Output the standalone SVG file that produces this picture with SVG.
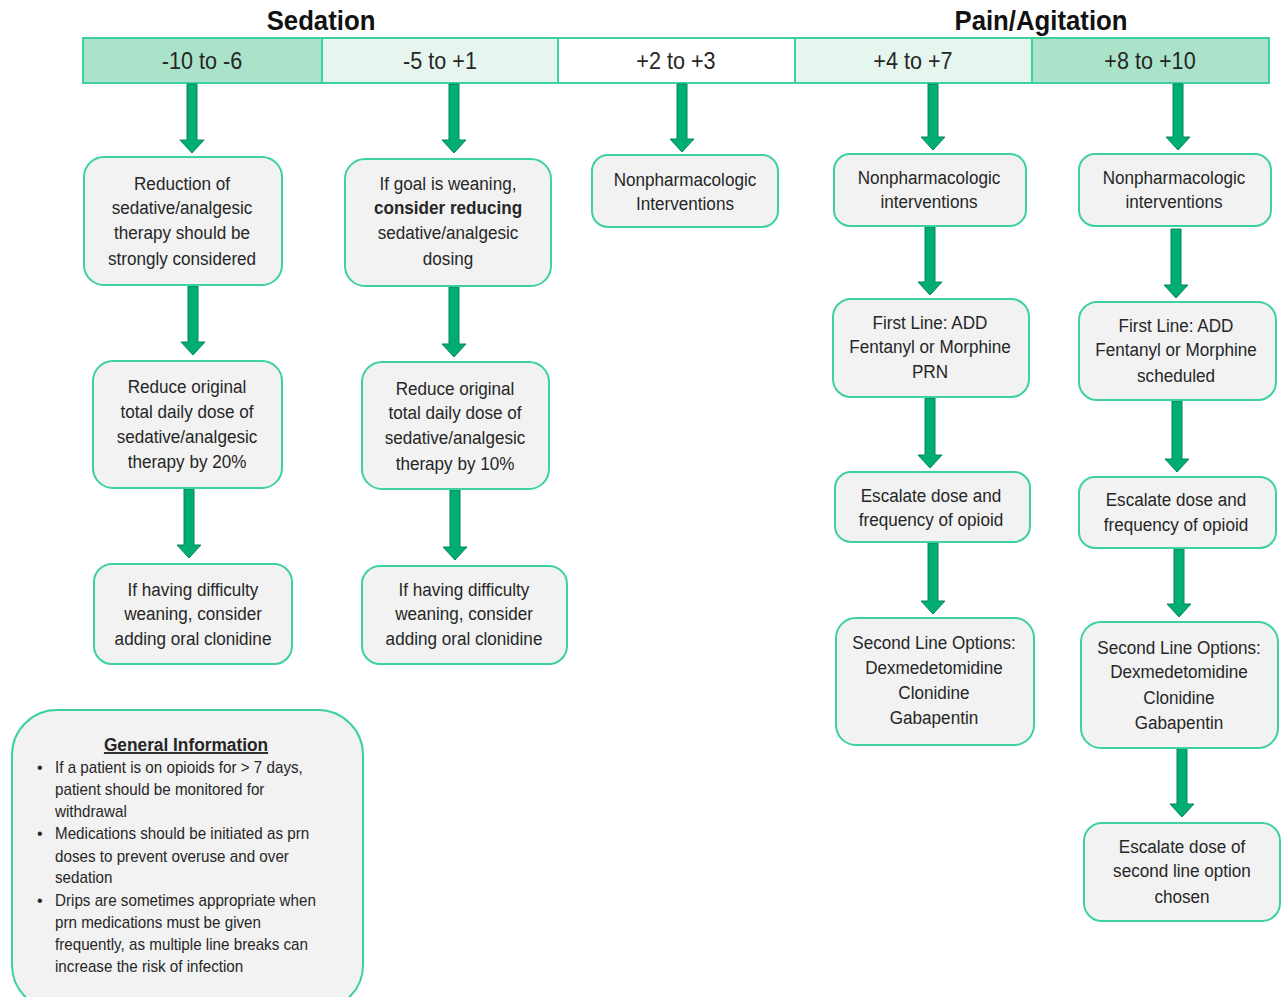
<svg xmlns="http://www.w3.org/2000/svg" width="1281" height="997" viewBox="0 0 1281 997">
<style>
.t{font-family:"Liberation Sans",Arial,sans-serif;font-size:19px;fill:#262626;text-anchor:middle}
.h{font-family:"Liberation Sans",Arial,sans-serif;font-size:24px;fill:#262626;text-anchor:middle}
.ttl{font-family:"Liberation Sans",Arial,sans-serif;font-size:28px;font-weight:bold;fill:#111;text-anchor:middle}
.g{font-family:"Liberation Sans",Arial,sans-serif;font-size:16px;fill:#262626}
.n{fill:#f2f2f2;stroke:#3dd1a2;stroke-width:2}
.c{stroke:#3dd1a2;stroke-width:2}
.arr{fill:#00ad75;stroke:#07865a;stroke-width:1}
</style>
<g id="titles">
<g transform="translate(321 0) scale(0.92 1)"><text class="ttl" x="0" y="30">Sedation</text></g>
<g transform="translate(1041 0) scale(0.92 1)"><text class="ttl" x="0" y="30">Pain/Agitation</text></g>
</g>
<g id="header">
<rect class="c" x="83" y="38" width="239" height="45" fill="#aae3ca"/>
<rect class="c" x="322" y="38" width="236" height="45" fill="#e6f6ee"/>
<rect class="c" x="558" y="38" width="237" height="45" fill="#ffffff"/>
<rect class="c" x="795" y="38" width="237" height="45" fill="#e6f6ee"/>
<rect class="c" x="1032" y="38" width="237" height="45" fill="#aae3ca"/>
<g transform="translate(202 0) scale(0.9 1)"><text class="h" x="0" y="69">-10 to -6</text></g>
<g transform="translate(440 0) scale(0.9 1)"><text class="h" x="0" y="69">-5 to +1</text></g>
<g transform="translate(676 0) scale(0.9 1)"><text class="h" x="0" y="69">+2 to +3</text></g>
<g transform="translate(913 0) scale(0.9 1)"><text class="h" x="0" y="69">+4 to +7</text></g>
<g transform="translate(1150 0) scale(0.9 1)"><text class="h" x="0" y="69">+8 to +10</text></g>
</g>
<g id="connectors">
<path class="arr" d="M187,84 V140 H180 L192,153 L204,140 H197 V84 Z"/>
<path class="arr" d="M188,286 V342 H181 L193,355 L205,342 H198 V286 Z"/>
<path class="arr" d="M184,489 V545 H177 L189,558 L201,545 H194 V489 Z"/>
<path class="arr" d="M449,84 V140 H442 L454,153 L466,140 H459 V84 Z"/>
<path class="arr" d="M449,287 V344 H442 L454,357 L466,344 H459 V287 Z"/>
<path class="arr" d="M450,490 V547 H443 L455,560 L467,547 H460 V490 Z"/>
<path class="arr" d="M677,84 V139 H670 L682,152 L694,139 H687 V84 Z"/>
<path class="arr" d="M928,84 V137 H921 L933,150 L945,137 H938 V84 Z"/>
<path class="arr" d="M925,227 V282 H918 L930,295 L942,282 H935 V227 Z"/>
<path class="arr" d="M925,398 V455 H918 L930,468 L942,455 H935 V398 Z"/>
<path class="arr" d="M928,543 V601 H921 L933,614 L945,601 H938 V543 Z"/>
<path class="arr" d="M1173,84 V137 H1166 L1178,150 L1190,137 H1183 V84 Z"/>
<path class="arr" d="M1171,229 V285 H1164 L1176,298 L1188,285 H1181 V229 Z"/>
<path class="arr" d="M1172,401 V459 H1165 L1177,472 L1189,459 H1182 V401 Z"/>
<path class="arr" d="M1174,549 V604 H1167 L1179,617 L1191,604 H1184 V549 Z"/>
<path class="arr" d="M1177,749 V804 H1170 L1182,817 L1194,804 H1187 V749 Z"/>
</g>
<g id="n1">
<rect class="n" x="84" y="157" width="198" height="128" rx="20"/>
<g transform="translate(182 0) scale(0.9 1)">
<text class="t" x="0" y="190">Reduction of</text>
<text class="t" x="0" y="214">sedative/analgesic</text>
<text class="t" x="0" y="239">therapy should be</text>
<text class="t" x="0" y="265">strongly considered</text>
</g>
</g>
<g id="n2">
<rect class="n" x="93" y="361" width="189" height="127" rx="20"/>
<g transform="translate(187 0) scale(0.9 1)">
<text class="t" x="0" y="393">Reduce original</text>
<text class="t" x="0" y="418">total daily dose of</text>
<text class="t" x="0" y="443">sedative/analgesic</text>
<text class="t" x="0" y="468">therapy by 20%</text>
</g>
</g>
<g id="n3">
<rect class="n" x="94" y="564" width="198" height="100" rx="18"/>
<g transform="translate(193 0) scale(0.9 1)">
<text class="t" x="0" y="596">If having difficulty</text>
<text class="t" x="0" y="620">weaning, consider</text>
<text class="t" x="0" y="645">adding oral clonidine</text>
</g>
</g>
<g id="n4">
<rect class="n" x="345" y="159" width="206" height="127" rx="20"/>
<g transform="translate(448 0) scale(0.9 1)">
<text class="t" x="0" y="190">If goal is weaning,</text>
<text class="t" x="0" y="214" font-weight="bold">consider reducing</text>
<text class="t" x="0" y="239">sedative/analgesic</text>
<text class="t" x="0" y="265">dosing</text>
</g>
</g>
<g id="n5">
<rect class="n" x="362" y="362" width="187" height="127" rx="20"/>
<g transform="translate(455 0) scale(0.9 1)">
<text class="t" x="0" y="395">Reduce original</text>
<text class="t" x="0" y="419">total daily dose of</text>
<text class="t" x="0" y="444">sedative/analgesic</text>
<text class="t" x="0" y="470">therapy by 10%</text>
</g>
</g>
<g id="n6">
<rect class="n" x="362" y="566" width="205" height="98" rx="18"/>
<g transform="translate(464 0) scale(0.9 1)">
<text class="t" x="0" y="596">If having difficulty</text>
<text class="t" x="0" y="620">weaning, consider</text>
<text class="t" x="0" y="645">adding oral clonidine</text>
</g>
</g>
<g id="n7">
<rect class="n" x="592" y="155" width="186" height="72" rx="16"/>
<g transform="translate(685 0) scale(0.9 1)">
<text class="t" x="0" y="186">Nonpharmacologic</text>
<text class="t" x="0" y="210">Interventions</text>
</g>
</g>
<g id="n8">
<rect class="n" x="834" y="154" width="192" height="72" rx="16"/>
<g transform="translate(929 0) scale(0.9 1)">
<text class="t" x="0" y="184">Nonpharmacologic</text>
<text class="t" x="0" y="208">interventions</text>
</g>
</g>
<g id="n9">
<rect class="n" x="833" y="299" width="196" height="98" rx="18"/>
<g transform="translate(930 0) scale(0.9 1)">
<text class="t" x="0" y="329">First Line: ADD</text>
<text class="t" x="0" y="353">Fentanyl or Morphine</text>
<text class="t" x="0" y="378">PRN</text>
</g>
</g>
<g id="n10">
<rect class="n" x="835" y="472" width="195" height="70" rx="16"/>
<g transform="translate(931 0) scale(0.9 1)">
<text class="t" x="0" y="502">Escalate dose and</text>
<text class="t" x="0" y="526">frequency of opioid</text>
</g>
</g>
<g id="n11">
<rect class="n" x="836" y="618" width="198" height="127" rx="20"/>
<g transform="translate(934 0) scale(0.9 1)">
<text class="t" x="0" y="649">Second Line Options:</text>
<text class="t" x="0" y="674">Dexmedetomidine</text>
<text class="t" x="0" y="699">Clonidine</text>
<text class="t" x="0" y="724">Gabapentin</text>
</g>
</g>
<g id="n12">
<rect class="n" x="1079" y="154" width="192" height="72" rx="16"/>
<g transform="translate(1174 0) scale(0.9 1)">
<text class="t" x="0" y="184">Nonpharmacologic</text>
<text class="t" x="0" y="208">interventions</text>
</g>
</g>
<g id="n13">
<rect class="n" x="1079" y="302" width="197" height="98" rx="18"/>
<g transform="translate(1176 0) scale(0.9 1)">
<text class="t" x="0" y="332">First Line: ADD</text>
<text class="t" x="0" y="356">Fentanyl or Morphine</text>
<text class="t" x="0" y="382">scheduled</text>
</g>
</g>
<g id="n14">
<rect class="n" x="1079" y="477" width="197" height="71" rx="16"/>
<g transform="translate(1176 0) scale(0.9 1)">
<text class="t" x="0" y="506">Escalate dose and</text>
<text class="t" x="0" y="531">frequency of opioid</text>
</g>
</g>
<g id="n15">
<rect class="n" x="1081" y="622" width="197" height="126" rx="20"/>
<g transform="translate(1179 0) scale(0.9 1)">
<text class="t" x="0" y="654">Second Line Options:</text>
<text class="t" x="0" y="678">Dexmedetomidine</text>
<text class="t" x="0" y="704">Clonidine</text>
<text class="t" x="0" y="729">Gabapentin</text>
</g>
</g>
<g id="n16">
<rect class="n" x="1084" y="823" width="196" height="98" rx="18"/>
<g transform="translate(1182 0) scale(0.9 1)">
<text class="t" x="0" y="853">Escalate dose of</text>
<text class="t" x="0" y="877">second line option</text>
<text class="t" x="0" y="903">chosen</text>
</g>
</g>
<g id="general-info">
<rect class="n" x="12" y="710" width="351" height="300" rx="45"/>
<g transform="translate(186 0) scale(0.91 1)">
<text class="t" x="0" y="751" font-weight="bold" text-decoration="underline">General Information</text>
</g>
<g class="g">
<text x="37" y="773">•</text>
<text x="37" y="839">•</text>
<text x="37" y="906">•</text>
</g>
<g class="g" transform="translate(55 0) scale(0.95 1)">
<text x="0" y="773">If a patient is on opioids for &gt; 7 days,</text>
<text x="0" y="795">patient should be monitored for</text>
<text x="0" y="817">withdrawal</text>
<text x="0" y="839">Medications should be initiated as prn</text>
<text x="0" y="862">doses to prevent overuse and over</text>
<text x="0" y="883">sedation</text>
<text x="0" y="906">Drips are sometimes appropriate when</text>
<text x="0" y="928">prn medications must be given</text>
<text x="0" y="950">frequently, as multiple line breaks can</text>
<text x="0" y="972">increase the risk of infection</text>
</g>
</g>
</svg>
